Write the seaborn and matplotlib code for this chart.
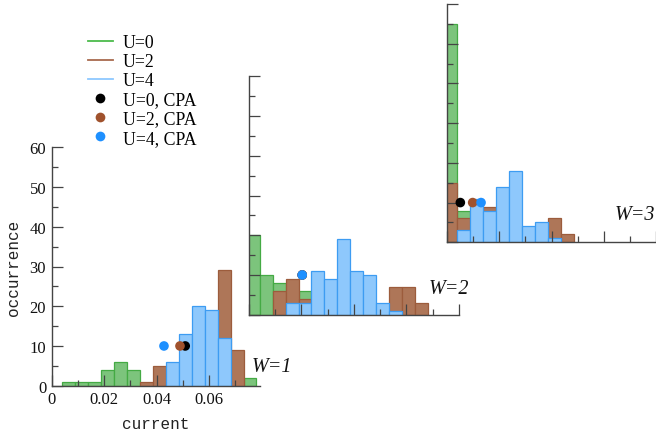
import numpy as np
import pandas as pd
import matplotlib
matplotlib.use("Agg")
import matplotlib.pyplot as plt
from matplotlib.lines import Line2D
from matplotlib.ticker import MultipleLocator
import seaborn as sns

# ---------------- data ----------------
bin_edges = [-0.00083, 0.00410, 0.00903, 0.01396, 0.01889, 0.02382, 0.02875,
             0.03368, 0.03861, 0.04354, 0.04847, 0.05340, 0.05833, 0.06326,
             0.06819, 0.07312, 0.07805]

# counts per bin (16 bins) for each W panel and each U
w1_u0 = [0, 1, 1, 1, 4, 6, 4, 0, 0, 0, 0, 0, 0, 0, 0, 2]
w1_u2 = [0, 0, 0, 0, 0, 0, 0, 1, 5, 0, 0, 0, 0, 29, 9, 0]
w1_u4 = [0, 0, 0, 0, 0, 0, 0, 0, 0, 6, 13, 20, 19, 12, 0, 0]

w2_u0 = [20, 10, 8, 0, 6, 0, 0, 0, 0, 0, 0, 0, 0, 0, 0, 0]
w2_u2 = [0, 0, 6, 9, 4, 0, 0, 0, 0, 0, 0, 7, 7, 3, 0, 0]
w2_u4 = [0, 0, 0, 3, 3, 11, 9, 19, 11, 10, 3, 1, 0, 0, 0, 0]

w3_u0 = [55, 8, 0, 0, 0, 0, 0, 0, 0, 0, 0, 0, 0, 0, 0, 0]
w3_u2 = [15, 6, 0, 9, 0, 0, 0, 0, 6, 2, 0, 0, 0, 0, 0, 0]
w3_u4 = [0, 3, 11, 8, 14, 18, 4, 5, 1, 0, 0, 0, 0, 0, 0, 0]

# CPA points (current, occurrence) for U=0, U=2, U=4
cpa_w1_x = [0.0509, 0.0489, 0.0428]
cpa_w2_x = [0.0203, 0.0203, 0.0203]
cpa_w3_x = [0.0052, 0.0099, 0.0131]
cpa_y = [10, 10, 10]

panel_labels = ["W=1", "W=2", "W=3"]
legend_labels = ["U=0", "U=2", "U=4", "U=0, CPA", "U=2, CPA", "U=4, CPA"]

# ---------------- styles ----------------
face = ["#7cc47c", "#ae7658", "#8ec8fc"]
edge = ["#44aa44", "#9c5c3c", "#3d9cf2"]
leg_line = ["#4cbb4c", "#a86a4e", "#8ec8ff"]
dot = ["#000000", "#a0522d", "#1e90ff"]
axcol = "#444444"
serif = "Liberation Serif"
mono = "Liberation Mono"

fig = plt.figure(figsize=(6.56, 4.35), dpi=100)

positions = [
    [51.7 / 656, (435 - 386.7) / 435, (260 - 51.7) / 656, 238.4 / 435],
    [249 / 656, (435 - 315.7) / 435, 210 / 656, 238.4 / 435],
    [446.7 / 656, (435 - 243.3) / 435, 210 / 656, 238.4 / 435],
]
xlims = [(0, 0.0794), (0, 0.0801), (0, 0.0801)]
data = [(w1_u0, w1_u2, w1_u4), (w2_u0, w2_u2, w2_u4), (w3_u0, w3_u2, w3_u4)]
cpas = [cpa_w1_x, cpa_w2_x, cpa_w3_x]
label_pos = [(0.0764, 4.8), (0.0684, 6.7), (0.0642, 6.9)]

edges = np.array(bin_edges)
centers = (edges[:-1] + edges[1:]) / 2

for i in range(3):
    ax = fig.add_axes(positions[i])
    ax.set_facecolor("none")
    for j in range(3):
        counts = np.array(data[i][j], dtype=float)
        m = counts > 0
        df = pd.DataFrame({"current": centers[m], "count": counts[m]})
        sns.histplot(data=df, x="current", weights="count", bins=list(bin_edges),
                     ax=ax, color=face[j], edgecolor=edge[j], linewidth=0.9,
                     alpha=1, zorder=1 + j * 0.1)
    for p in list(ax.patches):
        if p.get_height() == 0:
            p.remove()
    dfc = pd.DataFrame({"current": cpas[i], "occ": cpa_y, "u": ["0", "2", "4"]})
    sns.scatterplot(data=dfc, x="current", y="occ", hue="u", ax=ax,
                    palette=dot, s=48, edgecolor="none", legend=False,
                    zorder=5, clip_on=False)
    ax.set_xlim(*xlims[i])
    ax.set_ylim(0, 60)
    ax.set_axisbelow(False)
    for s in ["top", "right"]:
        ax.spines[s].set_visible(False)
    for s in ["left", "bottom"]:
        ax.spines[s].set_color(axcol)
        ax.spines[s].set_linewidth(1.0)
        ax.spines[s].set_zorder(3)
    ax.xaxis.set_major_locator(MultipleLocator(0.02))
    ax.xaxis.set_minor_locator(MultipleLocator(0.01))
    ax.yaxis.set_major_locator(MultipleLocator(10))
    ax.yaxis.set_minor_locator(MultipleLocator(5))
    ax.tick_params(which="major", direction="in", length=8, width=0.9,
                   color=axcol, pad=4)
    ax.tick_params(which="minor", direction="in", length=4, width=0.9,
                   color=axcol)
    ax.set_xlabel("")
    ax.set_ylabel("")
    if i == 0:
        ax.set_xticks([0, 0.02, 0.04, 0.06])
        ax.set_xticklabels(["0", "0.02", "0.04", "0.06"])
        for t in ax.get_xticklabels() + ax.get_yticklabels():
            t.set_fontfamily(serif)
            t.set_fontsize(12)
            t.set_color("#111111")
        ax.set_xlabel("current", fontfamily=mono, fontsize=11.5,
                      labelpad=6, color="#222222")
        ax.set_ylabel("occurrence", fontfamily=mono, fontsize=11.5,
                      labelpad=6, color="#222222")
    else:
        ax.tick_params(labelbottom=False, labelleft=False)
    lx, ly = label_pos[i]
    ax.text(lx, ly, panel_labels[i], fontfamily=serif, fontstyle="italic",
            fontsize=14.5, ha="left", va="center", color="#111111",
            clip_on=False)

handles = [Line2D([], [], color=c, lw=1.3) for c in leg_line] + \
          [Line2D([], [], color=c, marker="o", linestyle="none",
                  markersize=7, markeredgecolor="none") for c in dot]
fig.legend(handles, legend_labels, loc="upper left",
           bbox_to_anchor=(88 / 656, 1 - 35 / 435), frameon=False,
           borderpad=0, borderaxespad=0, handlelength=1.4,
           handletextpad=0.56, labelspacing=0.12,
           prop={"family": serif, "size": 12.8})

fig.savefig("out.png", dpi=100)
